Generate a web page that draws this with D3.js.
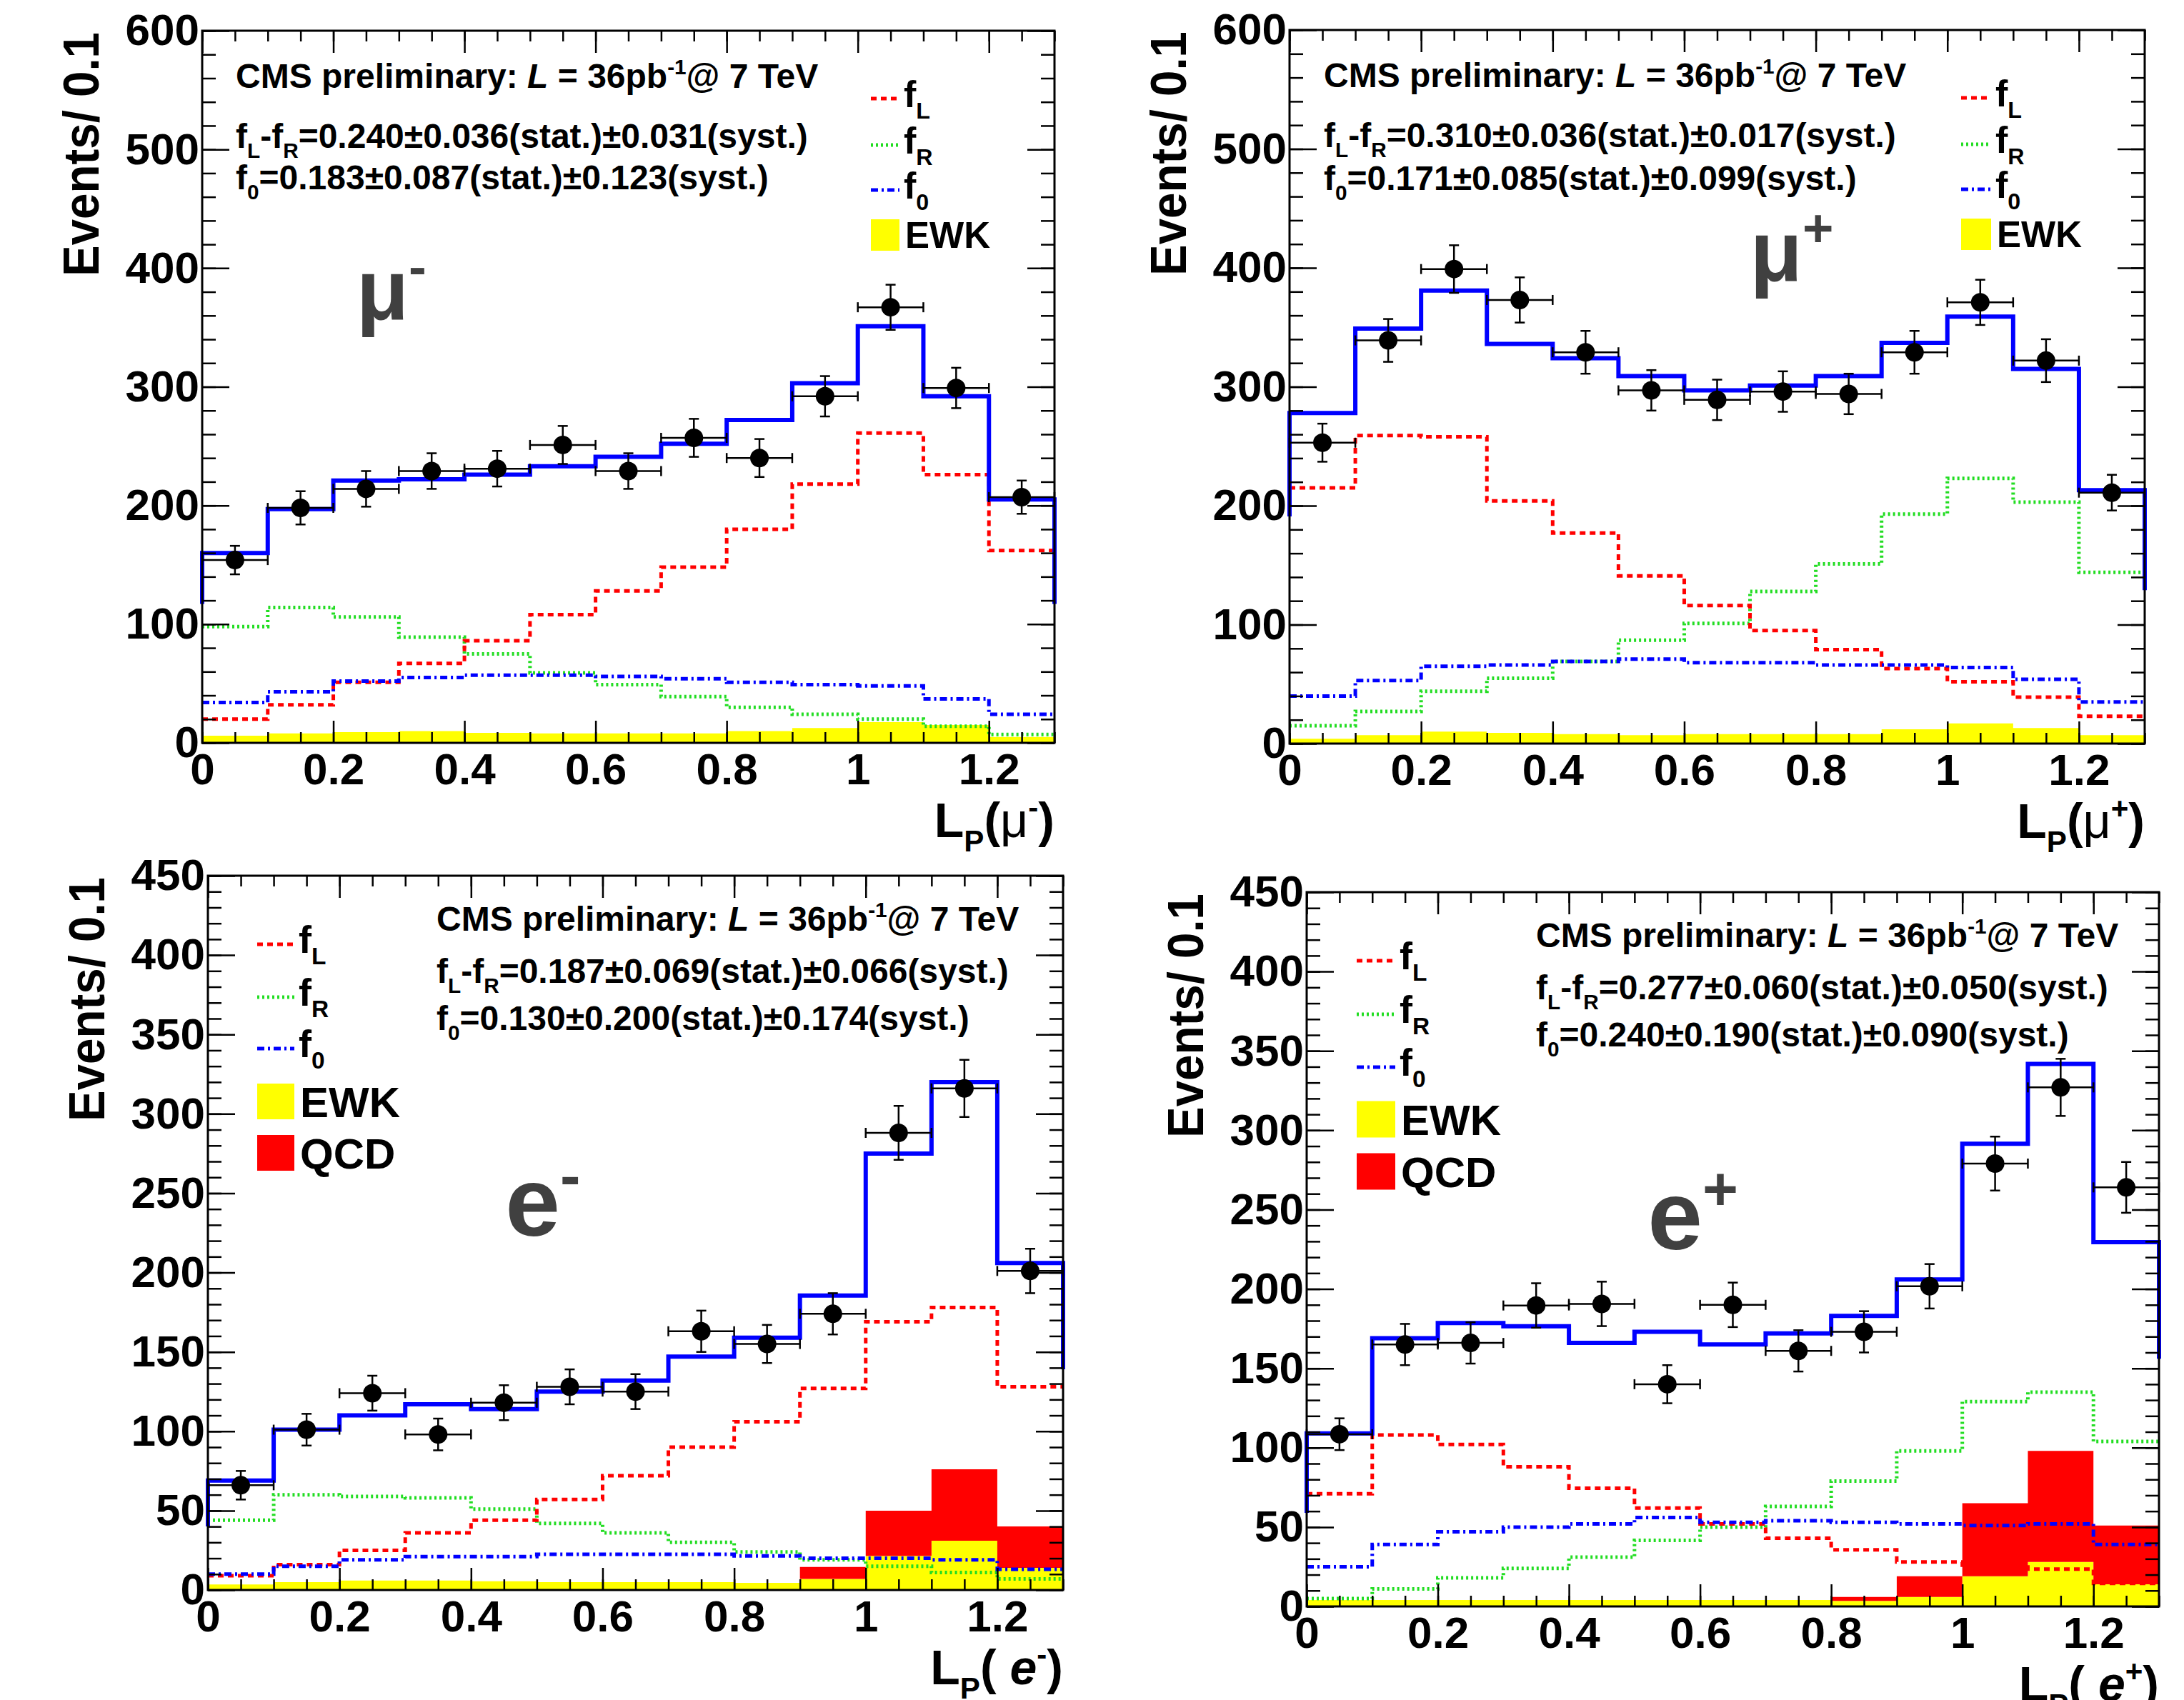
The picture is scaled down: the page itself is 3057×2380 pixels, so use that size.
<!DOCTYPE html>
<html>
<head>
<meta charset="utf-8">
<title>W polarisation: L_P fits, CMS preliminary</title>
<script src="https://d3js.org/d3.v7.min.js"></script>
<style>
  body { margin: 0; background: #fff; }
  svg text {
    font-family: 'Liberation Sans', Arial, Helvetica, sans-serif;
    font-weight: 700;
    fill: #000;
  }
  .axis path { display: none; }
  .axis line { stroke: #000; stroke-width: 2.5; }
  .axis text { font-size: 62px; }
  .frame { fill: none; stroke: #000; stroke-width: 3; }
  .fL { fill: none; stroke: #ff0000; stroke-width: 5; stroke-dasharray: 8,6; }
  .fR { fill: none; stroke: #22dd22; stroke-width: 5; stroke-dasharray: 3,4; }
  .f0 { fill: none; stroke: #0000ff; stroke-width: 5; stroke-dasharray: 10,5,3,5; }
  .total { fill: none; stroke: #0000ff; stroke-width: 6; }
  .ewk { fill: #ffff00; stroke: none; }
  .qcd { fill: #ff0000; stroke: none; }
  .err { stroke: #000; stroke-width: 2.5; }
  text.big { fill: #404040; }
</style>
</head>
<body>
<svg id="chart" width="3057" height="2380"></svg>
<script>
// L_P bins (lower edges), width 0.1
var binLow = [0, 0.1, 0.2, 0.3, 0.4, 0.5, 0.6, 0.7, 0.8, 0.9, 1.0, 1.1, 1.2];
var binWidth = 0.1;
var xMajor = [0, 0.2, 0.4, 0.6, 0.8, 1.0, 1.2];
var xTickLabels = ["0", "0.2", "0.4", "0.6", "0.8", "1", "1.2"];
var yMajorMu = [0, 100, 200, 300, 400, 500, 600];
var yMajorE = [0, 50, 100, 150, 200, 250, 300, 350, 400, 450];

// mu- 
var muMinusData  = [154, 198, 214, 229, 231, 251, 229, 257, 240, 292, 367, 299, 207];
var muMinusErr   = [12, 14, 15, 15, 15, 16, 15, 16, 16, 17, 19, 17, 14];
var muMinusTotal = [160, 197, 221, 222, 226, 233, 241, 252, 272, 303, 351, 292, 205];
var muMinusEnds  = [117, 117];
var muMinusFL    = [20, 32, 51, 67, 86, 108, 128, 148, 180, 218, 261, 226, 162];
var muMinusFR    = [98, 114, 106, 89, 75, 59, 49, 39, 30, 24, 20, 14, 7];
var muMinusF0    = [34, 43, 52, 55, 57, 57, 56, 54, 51, 49, 48, 37, 24];
var muMinusEWK   = [6, 8, 9, 10, 8.5, 8, 8, 8, 10, 12.5, 17.5, 15, 5];

// mu+
var muPlusData  = [253, 339, 399, 373, 329, 297, 289, 296, 294, 329, 371, 322, 211];
var muPlusErr   = [16, 18, 20, 19, 18, 17, 17, 17, 17, 18, 19, 18, 15];
var muPlusTotal = [278, 349, 381, 336, 324, 309, 297, 301, 309, 337, 359, 315, 213];
var muPlusEnds  = [191, 129];
var muPlusFL    = [215, 259, 258, 204, 177, 141, 116, 95, 79, 63, 52, 39, 23];
var muPlusFR    = [15, 27, 44, 55, 69, 87, 101, 128, 151, 193, 223, 203, 144];
var muPlusF0    = [40, 53, 65, 66, 69, 71, 68, 68, 66, 66, 64, 54, 35];
var muPlusEWK   = [4, 7, 10, 9, 8, 7, 8, 8, 8, 12, 17, 13, 7];

// e-
var eMinusData  = [66, 101, 124, 98, 118, 128, 125, 163, 155, 174, 288, 316, 201];
var eMinusErr   = [9, 10, 11, 10, 11, 11, 11, 13, 12, 13, 17, 18, 14];
var eMinusTotal = [69, 101, 110, 117, 114, 125, 132, 147, 159, 185.5, 275, 320, 206];
var eMinusEnds  = [40, 139];
var eMinusFL    = [9, 16, 25, 36, 44, 57, 72, 90, 106, 127, 169, 178, 128];
var eMinusFR    = [44, 60, 59, 58, 51, 42, 36, 30, 24, 19, 15, 11, 7];
var eMinusF0    = [10, 15, 19, 21, 21, 22.5, 22.5, 22.5, 21.5, 20, 20, 19, 13];
var eMinusEWK   = [3.5, 5, 6, 6, 5.5, 5, 5, 5, 4.5, 7, 21.5, 31, 14];
var eMinusQCD   = [0, 0, 0, 0, 0, 0, 0, 0, 0, 7.5, 28.5, 45, 26];

// e+
var ePlusData  = [108.5, 165, 166, 189.6, 190.6, 140, 190, 161, 173, 201.7, 279, 327, 264];
var ePlusErr   = [10, 13, 13, 14, 14, 12, 14, 13, 13, 14, 17, 18, 16];
var ePlusTotal = [109, 169, 178.5, 176.5, 166, 173, 165, 172, 183, 206, 291.5, 341.8, 229.5];
var ePlusEnds  = [59, 156];
var ePlusFL    = [71, 108, 102, 88, 74.5, 62, 52, 43, 35.7, 28, 26, 23.5, 14.5];
var ePlusFR    = [5, 11, 18, 24, 31, 41.6, 50, 63, 79, 98, 129, 135, 104];
var ePlusF0    = [25, 39, 47, 50, 52, 56, 53, 54, 53, 52, 51, 52, 39];
var ePlusEWK   = [4, 4, 4, 4, 4, 4, 4, 4, 3.5, 6, 19, 28, 14];
var ePlusQCD   = [0, 0, 0, 0, 0, 0, 0, 0, 2.5, 13, 46, 70, 37];

// fit results printed on each panel
var fitLR = ["0.240±0.036(stat.)±0.031(syst.)", "0.310±0.036(stat.)±0.017(syst.)",
             "0.187±0.069(stat.)±0.066(syst.)", "0.277±0.060(stat.)±0.050(syst.)"];
var fit0  = ["0.183±0.087(stat.)±0.123(syst.)", "0.171±0.085(stat.)±0.099(syst.)",
             "0.130±0.200(stat.)±0.174(syst.)", "0.240±0.190(stat.)±0.090(syst.)"];

var svg = d3.select("#chart");
svg.append("rect").attr("width", 3057).attr("height", 2380).attr("fill", "#fff");

// text with sub/superscripts: parts = [[string, mode], ...]
function richText(sel, x, y, parts, size) {
  var t = sel.append("text").attr("x", x).attr("y", y).style("font-size", size + "px");
  var shift = 0;
  parts.forEach(function(p) {
    var mode = p[1] || "";
    var want = mode === "sub" ? 0.3 * size : (mode === "sup" ? -0.4 * size : 0);
    var ts = t.append("tspan").attr("dy", want - shift).text(p[0]);
    shift = want;
    if (mode === "sub" || mode === "sup") ts.style("font-size", (0.62 * size) + "px");
    if (mode === "it") ts.style("font-style", "italic");
    if (mode === "thin") ts.style("font-weight", 400);
  });
  return t;
}

var panels = [
  { left: 283, top: 43, width: 1193, height: 997, yMax: 600, yMajor: yMajorMu, yMinorStep: 20,
    data: muMinusData, err: muMinusErr, total: muMinusTotal, ends: muMinusEnds,
    fL: muMinusFL, fR: muMinusFR, f0: muMinusF0, ewk: muMinusEWK, qcd: null,
    textX: 47, textY: [80, 164, 222], legX: 936, legY: [95, 160, 223, 286], legLine: 40, legBox: 44,
    legFont: 52, legFont2: 51,
    big: ["μ", "-"], bigPos: [0.235, 357], bigSize: 120,
    xTitle: [["L"], ["P", "sub"], ["("], ["μ", "thin"], ["-", "sup"], [")"]] },
  { left: 1805, top: 42, width: 1197, height: 999, yMax: 600, yMajor: yMajorMu, yMinorStep: 20,
    data: muPlusData, err: muPlusErr, total: muPlusTotal, ends: muPlusEnds,
    fL: muPlusFL, fR: muPlusFR, f0: muPlusF0, ewk: muPlusEWK, qcd: null,
    textX: 48, textY: [80, 164, 224], legX: 940, legY: [95, 160, 223, 286], legLine: 42, legBox: 44,
    legFont: 52, legFont2: 51,
    big: ["μ", "+"], bigPos: [0.70, 389], bigSize: 120,
    xTitle: [["L"], ["P", "sub"], ["("], ["μ", "thin"], ["+", "sup"], [")"]] },
  { left: 291, top: 1226, width: 1197, height: 1000, yMax: 450, yMajor: yMajorE, yMinorStep: 10,
    data: eMinusData, err: eMinusErr, total: eMinusTotal, ends: eMinusEnds,
    fL: eMinusFL, fR: eMinusFR, f0: eMinusF0, ewk: eMinusEWK, qcd: eMinusQCD,
    textX: 320, textY: [77, 150, 216], legX: 69, legY: [96, 170, 242, 316, 388], legLine: 52, legBox: 50,
    legFont: 54, legFont2: 60,
    big: ["e", "-"], bigPos: [0.452, 223], bigSize: 138,
    xTitle: [["L"], ["P", "sub"], ["( "], ["e", "it"], ["-", "sup"], [")"]] },
  { left: 1829, top: 1249, width: 1193, height: 1000, yMax: 450, yMajor: yMajorE, yMinorStep: 10,
    data: ePlusData, err: ePlusErr, total: ePlusTotal, ends: ePlusEnds,
    fL: ePlusFL, fR: ePlusFR, f0: ePlusF0, ewk: ePlusEWK, qcd: ePlusQCD,
    textX: 321, textY: [77, 150, 216], legX: 70, legY: [96, 171, 245, 318, 391], legLine: 54, legBox: 51,
    legFont: 54, legFont2: 60,
    big: ["e", "+"], bigPos: [0.52, 225], bigSize: 138,
    xTitle: [["L"], ["P", "sub"], ["( "], ["e", "it"], ["+", "sup"], [")"]] }
];

panels.forEach(function(p, pi) {
  var g = svg.append("g").attr("transform", "translate(" + p.left + "," + p.top + ")");
  var x = d3.scaleLinear().domain([0, 1.3]).range([0, p.width]);
  var y = d3.scaleLinear().domain([0, p.yMax]).range([p.height, 0]);

  // step histogram points: one point per bin edge, last value repeated at 1.3
  function steps(vals) {
    var pts = binLow.map(function(b, i) { return [b, vals[i]]; });
    pts.push([1.3, vals[vals.length - 1]]);
    return pts;
  }
  var stepLine = d3.line().x(function(d) { return x(d[0]); })
                          .y(function(d) { return y(d[1]); })
                          .curve(d3.curveStepAfter);

  // EWK fill, QCD stacked on top
  var ewkArea = d3.area().x(function(d) { return x(d[0]); })
                         .y0(y(0)).y1(function(d) { return y(d[1]); })
                         .curve(d3.curveStepAfter);
  g.append("path").attr("class", "ewk").attr("d", ewkArea(steps(p.ewk)));
  if (p.qcd) {
    var stack = binLow.map(function(b, i) { return [b, p.ewk[i], p.ewk[i] + p.qcd[i]]; });
    stack.push([1.3, p.ewk[12], p.ewk[12] + p.qcd[12]]);
    var qcdArea = d3.area().x(function(d) { return x(d[0]); })
                           .y0(function(d) { return y(d[1]); })
                           .y1(function(d) { return y(d[2]); })
                           .curve(d3.curveStepAfter);
    g.append("path").attr("class", "qcd").attr("d", qcdArea(stack));
  }

  g.append("path").attr("class", "fR").attr("d", stepLine(steps(p.fR)));
  g.append("path").attr("class", "fL").attr("d", stepLine(steps(p.fL)));
  g.append("path").attr("class", "f0").attr("d", stepLine(steps(p.f0)));

  var tot = [[0, p.ends[0]]].concat(steps(p.total));
  tot.push([1.3, p.ends[1]]);
  g.append("path").attr("class", "total").attr("d", stepLine(tot));

  // data points with error bars
  var pts = g.append("g").selectAll("g").data(p.data).enter().append("g");
  pts.append("line").attr("class", "err")
     .attr("x1", function(d, i) { return x(binLow[i]); })
     .attr("x2", function(d, i) { return x(binLow[i] + binWidth); })
     .attr("y1", function(d) { return y(d); }).attr("y2", function(d) { return y(d); });
  pts.append("line").attr("class", "err")
     .attr("x1", function(d, i) { return x(binLow[i] + binWidth / 2); })
     .attr("x2", function(d, i) { return x(binLow[i] + binWidth / 2); })
     .attr("y1", function(d, i) { return y(d - p.err[i]); })
     .attr("y2", function(d, i) { return y(d + p.err[i]); });
  [0, 1].forEach(function(k) {
    pts.append("line").attr("class", "err")
       .attr("x1", function(d, i) { return x(binLow[i] + k * binWidth); })
       .attr("x2", function(d, i) { return x(binLow[i] + k * binWidth); })
       .attr("y1", function(d) { return y(d) - 7; }).attr("y2", function(d) { return y(d) + 7; });
    pts.append("line").attr("class", "err")
       .attr("x1", function(d, i) { return x(binLow[i] + binWidth / 2) - 7; })
       .attr("x2", function(d, i) { return x(binLow[i] + binWidth / 2) + 7; })
       .attr("y1", function(d, i) { return y(d + (k ? 1 : -1) * p.err[i]); })
       .attr("y2", function(d, i) { return y(d + (k ? 1 : -1) * p.err[i]); });
  });
  pts.append("circle")
     .attr("cx", function(d, i) { return x(binLow[i] + binWidth / 2); })
     .attr("cy", function(d) { return y(d); })
     .attr("r", 13).attr("fill", "#000");

  // axes: ticks inside on all four sides
  var xMinor = d3.range(0, 1.3001, 0.05);
  var yMinor = d3.range(0, p.yMax + 0.01, p.yMinorStep);
  g.append("g").attr("class", "axis").attr("transform", "translate(0," + p.height + ")")
   .call(d3.axisBottom(x).tickValues(xMinor).tickSize(-15).tickFormat(""));
  g.append("g").attr("class", "axis").attr("transform", "translate(0," + p.height + ")")
   .call(d3.axisBottom(x).tickValues(xMajor).tickSize(-31).tickPadding(14)
           .tickFormat(function(d, i) { return xTickLabels[i]; }));
  g.append("g").attr("class", "axis")
   .call(d3.axisTop(x).tickValues(xMinor).tickSize(-15).tickFormat(""));
  g.append("g").attr("class", "axis")
   .call(d3.axisTop(x).tickValues(xMajor).tickSize(-31).tickFormat(""));
  g.append("g").attr("class", "axis")
   .call(d3.axisLeft(y).tickValues(yMinor).tickSize(-19).tickFormat(""));
  g.append("g").attr("class", "axis")
   .call(d3.axisLeft(y).tickValues(p.yMajor).tickSize(-38).tickPadding(4));
  g.append("g").attr("class", "axis").attr("transform", "translate(" + p.width + ",0)")
   .call(d3.axisRight(y).tickValues(yMinor).tickSize(-19).tickFormat(""));
  g.append("g").attr("class", "axis").attr("transform", "translate(" + p.width + ",0)")
   .call(d3.axisRight(y).tickValues(p.yMajor).tickSize(-38).tickFormat(""));
  g.append("rect").attr("class", "frame").attr("width", p.width).attr("height", p.height);

  // axis titles
  g.append("text")
   .attr("transform", "translate(-145,2) rotate(-90)")
   .attr("text-anchor", "end")
   .attr("textLength", 342).attr("lengthAdjust", "spacingAndGlyphs")
   .style("font-size", "70px")
   .text("Events/ 0.1");
  richText(g, p.width, p.height + 132, p.xTitle, 68).attr("text-anchor", "end");

  // fit result text
  richText(g, p.textX, p.textY[0],
           [["CMS preliminary: "], ["L", "it"], [" = 36pb"], ["-1", "sup"], ["@ 7 TeV"]], 48);
  richText(g, p.textX, p.textY[1],
           [["f"], ["L", "sub"], ["-f"], ["R", "sub"], ["=" + fitLR[pi]]], 48);
  richText(g, p.textX, p.textY[2], [["f"], ["0", "sub"], ["=" + fit0[pi]]], 48);

  // legend
  var leg = g.append("g").attr("transform", "translate(" + p.legX + ",0)");
  var lines = [["fL", "L"], ["fR", "R"], ["f0", "0"]];
  lines.forEach(function(l, i) {
    leg.append("line").attr("class", l[0])
       .attr("x1", 0).attr("x2", p.legLine)
       .attr("y1", p.legY[i]).attr("y2", p.legY[i]);
    richText(leg, p.legLine + 6, p.legY[i] + 12, [["f"], [l[1], "sub"]], p.legFont);
  });
  var boxes = p.qcd ? [["ewk", "EWK"], ["qcd", "QCD"]] : [["ewk", "EWK"]];
  boxes.forEach(function(b, j) {
    var cy = p.legY[3 + j];
    leg.append("rect").attr("class", b[0])
       .attr("x", 0).attr("y", cy - p.legBox / 2)
       .attr("width", p.legLine).attr("height", p.legBox);
    leg.append("text").attr("x", p.legLine + 8).attr("y", cy + 0.36 * p.legFont2)
       .style("font-size", p.legFont2 + "px").text(b[1]);
  });

  // big particle label
  richText(g, x(p.bigPos[0]), y(p.bigPos[1]), [[p.big[0]], [p.big[1], "sup"]], p.bigSize)
    .attr("class", "big");
});
</script>
</body>
</html>
